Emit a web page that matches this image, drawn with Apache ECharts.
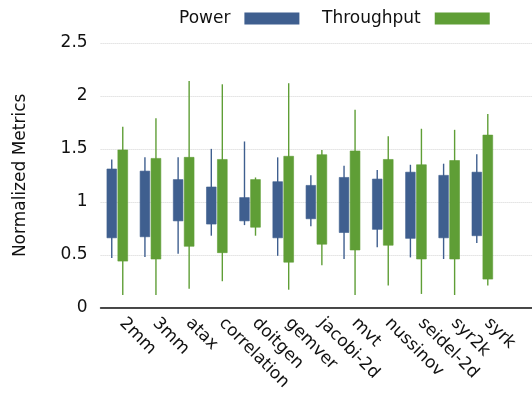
<!DOCTYPE html>
<html>
<head>
<meta charset="utf-8">
<script src="https://cdn.jsdelivr.net/npm/echarts@6/dist/echarts.min.js"></script>
<style>html,body{margin:0;padding:0;background:#fff;}#chart{width:532px;height:397px;}</style>
</head>
<body>
<div id="chart"></div>
<script>
const categories = ['2mm','3mm','atax','correlation','doitgen','gemver','jacobi-2d','mvt','nussinov','seidel-2d','syr2k','syrk'];
const yTicks = [0, 0.5, 1, 1.5, 2, 2.5];

const powerMin = [0.47, 0.48, 0.51, 0.68, 0.78, 0.49, 0.77, 0.46, 0.57, 0.475, 0.46, 0.61];
const powerQ1  = [0.66, 0.67, 0.82, 0.79, 0.82, 0.66, 0.84, 0.71, 0.74, 0.655, 0.66, 0.68];
const powerQ3  = [1.31, 1.29, 1.21, 1.14, 1.04, 1.19, 1.155, 1.23, 1.215, 1.28, 1.25, 1.28];
const powerMax = [1.40, 1.42, 1.42, 1.50, 1.57, 1.42, 1.25, 1.34, 1.30, 1.35, 1.36, 1.45];

const thrMin = [0.12, 0.12, 0.18, 0.25, 0.68, 0.17, 0.40, 0.12, 0.21, 0.13, 0.12, 0.21];
const thrQ1  = [0.44, 0.46, 0.58, 0.52, 0.76, 0.43, 0.60, 0.545, 0.59, 0.46, 0.46, 0.27];
const thrQ3  = [1.49, 1.41, 1.42, 1.40, 1.21, 1.43, 1.445, 1.48, 1.40, 1.35, 1.39, 1.63];
const thrMax = [1.71, 1.79, 2.14, 2.11, 1.23, 2.12, 1.49, 1.87, 1.62, 1.69, 1.68, 1.83];

const POWER_COLOR = '#3f5f8f';
const THR_COLOR = '#5f9e36';
const FONT = 'DejaVu Sans';

function rows(mins, q1s, q3s, maxs) {
  return categories.map((c, i) => [i, mins[i], q1s[i], q3s[i], maxs[i]]);
}

function makeRender(color, offsetFrac, widthFrac) {
  return function (params, api) {
    const idx = api.value(0);
    const lo = api.coord([idx, api.value(1)]);
    const q1 = api.coord([idx, api.value(2)]);
    const q3 = api.coord([idx, api.value(3)]);
    const hi = api.coord([idx, api.value(4)]);
    const band = api.size([1, 0])[0];
    const cx = lo[0] + band * offsetFrac;
    const w = band * widthFrac;
    return {
      type: 'group',
      children: [
        { type: 'line', shape: { x1: cx, y1: hi[1], x2: cx, y2: lo[1] }, style: { stroke: color, lineWidth: 1.4 } },
        { type: 'rect', shape: { x: cx - w / 2, y: q3[1], width: w, height: q1[1] - q3[1] }, style: { fill: color, stroke: color, lineWidth: 0.6 } }
      ]
    };
  };
}

function legendOf(name, color, left) {
  return {
    data: [{ name: name, itemStyle: { color: color } }],
    left: left,
    top: 10,
    padding: 0,
    width: 250,
    align: 'right',
    icon: 'rect',
    itemWidth: 55,
    itemHeight: 12,
    textStyle: { fontFamily: FONT, fontSize: 17, color: '#111', padding: [0, 9, 0, 0] }
  };
}

const chart = echarts.init(document.getElementById('chart'), null, { renderer: 'canvas' });
chart.setOption({
  animation: false,
  backgroundColor: '#fff',
  textStyle: { fontFamily: FONT },
  legend: [
    legendOf('Power', POWER_COLOR, 179),
    legendOf('Throughput', THR_COLOR, 322)
  ],
  grid: { left: 100.6, top: 43, width: 452.4, bottom: 89.3 },
  xAxis: {
    type: 'category',
    data: categories.concat(['']),
    boundaryGap: true,
    axisLine: { show: true, lineStyle: { color: '#111', width: 1.6 } },
    axisTick: { show: false },
    axisLabel: { interval: 0, rotate: -45, margin: 8, padding: [0, 0, 0, 7], fontFamily: FONT, fontSize: 17, color: '#111' },
    splitLine: { show: false }
  },
  yAxis: {
    type: 'value',
    min: yTicks[0],
    max: yTicks[yTicks.length - 1],
    interval: 0.5,
    name: 'Normalized Metrics',
    nameLocation: 'middle',
    nameGap: 72,
    nameTextStyle: { fontFamily: FONT, fontSize: 17, color: '#111' },
    axisLine: { show: false },
    axisTick: { show: false },
    axisLabel: { margin: 13, fontFamily: FONT, fontSize: 17, color: '#111' },
    splitLine: { show: true, lineStyle: { color: '#d4d4d4', type: 'dotted', width: 1 } }
  },
  series: [
    {
      name: 'Power',
      type: 'custom',
      itemStyle: { color: POWER_COLOR },
      encode: { x: 0, y: [1, 2, 3, 4] },
      renderItem: makeRender(POWER_COLOR, -0.164, 0.29),
      data: rows(powerMin, powerQ1, powerQ3, powerMax)
    },
    {
      name: 'Throughput',
      type: 'custom',
      itemStyle: { color: THR_COLOR },
      encode: { x: 0, y: [1, 2, 3, 4] },
      renderItem: makeRender(THR_COLOR, 0.168, 0.295),
      data: rows(thrMin, thrQ1, thrQ3, thrMax)
    }
  ]
});
</script>
</body>
</html>
